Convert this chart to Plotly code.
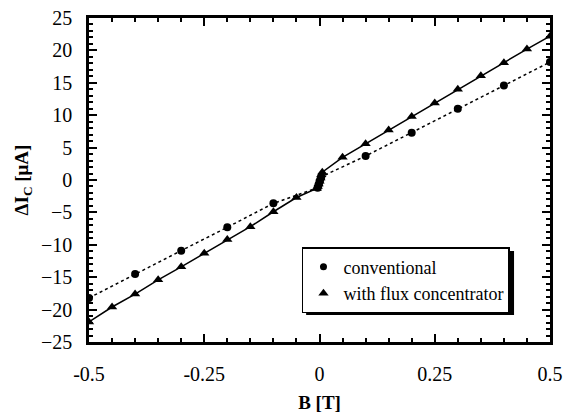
import plotly.graph_objects as go

# conventional (circles)
b_conv = [-0.5, -0.4, -0.3, -0.2, -0.1, -0.004, -0.002, 0.0, 0.002, 0.004, 0.1, 0.2, 0.3, 0.4, 0.5]
i_conv = [-18.2, -14.5, -10.9, -7.3, -3.6, -1.2, -0.8, -0.3, 0.1, 0.5, 3.7, 7.3, 11.0, 14.6, 18.2]

# with flux concentrator (triangles)
b_flux = [-0.5, -0.45, -0.4, -0.35, -0.3, -0.25, -0.2, -0.15, -0.1, -0.05,
          -0.006, -0.004, -0.002, 0.0, 0.002, 0.004, 0.006,
          0.05, 0.1, 0.15, 0.2, 0.25, 0.3, 0.35, 0.4, 0.45, 0.5]
i_flux = [-21.9, -19.6, -17.6, -15.4, -13.4, -11.3, -9.2, -7.2, -4.9, -2.7,
          -1.3, -1.0, -0.6, -0.2, 0.3, 0.8, 1.2,
          3.5, 5.6, 7.7, 9.8, 11.9, 14.0, 16.1, 18.1, 20.2, 22.2]

series_names = ["conventional", "with flux concentrator"]
x_ticks = [-0.5, -0.25, 0, 0.25, 0.5]
x_labels = ["-0.5", "-0.25", "0", "0.25", "0.5"]
y_ticks = [-25, -20, -15, -10, -5, 0, 5, 10, 15, 20, 25]

font = "Liberation Serif, Times New Roman, serif"

fig = go.Figure()
fig.add_trace(go.Scatter(x=b_conv, y=i_conv, mode="lines+markers", name=series_names[0],
                         showlegend=False,
                         line=dict(color="black", width=1.5, dash="dot"),
                         marker=dict(symbol="circle", size=8, color="black")))
fig.add_trace(go.Scatter(x=b_flux, y=i_flux, mode="lines+markers", name=series_names[1],
                         showlegend=False,
                         line=dict(color="black", width=1.5),
                         marker=dict(symbol="triangle-up", size=9, color="black")))
# legend entries (markers only, as in the reference)
fig.add_trace(go.Scatter(x=[None], y=[None], mode="markers", name=series_names[0],
                         marker=dict(symbol="circle", size=7, color="black")))
fig.add_trace(go.Scatter(x=[None], y=[None], mode="markers", name=series_names[1],
                         marker=dict(symbol="triangle-up", size=9, color="black")))

axis_common = dict(showgrid=False, zeroline=False, showline=True, linecolor="black", linewidth=2.5,
                   mirror="allticks", ticks="inside", tickcolor="black", tickwidth=1.5, ticklen=8,
                   automargin=False)

fig.update_xaxes(range=[-0.5, 0.5], tickvals=x_ticks, ticktext=x_labels,
                 tickfont=dict(family=font, size=20, color="black"), ticklabelstandoff=12,
                 minor=dict(dtick=0.05, ticks="inside", ticklen=4, tickcolor="black", tickwidth=1.5),
                 title=dict(text="<b>B [T]</b>", font=dict(family=font, size=19, color="black"), standoff=12),
                 **axis_common)
fig.update_yaxes(range=[-25, 25], tickvals=y_ticks,
                 tickfont=dict(family=font, size=20, color="black"), ticklabelstandoff=10,
                 minor=dict(dtick=1, ticks="inside", ticklen=4, tickcolor="black", tickwidth=1.5),
                 title=dict(text="<b>ΔI<sub>C</sub> [μA]</b>", font=dict(family=font, size=19, color="black"), standoff=8),
                 **axis_common)

# legend shadow
fig.add_shape(type="rect", xref="paper", yref="paper", x0=0.471, x1=0.922, y0=0.083, y1=0.281,
              fillcolor="black", line=dict(width=0), layer="above")

fig.update_layout(
    width=568, height=413,
    margin=dict(l=89, r=18, t=18, b=71),
    paper_bgcolor="white", plot_bgcolor="white",
    font=dict(family=font),
    showlegend=True,
    legend=dict(x=0.462, y=0.293, xanchor="left", yanchor="top",
                bgcolor="white", bordercolor="black", borderwidth=1.5,
                font=dict(family=font, size=18, color="black"),
                itemwidth=30),
)

fig.write_html("out.html")
